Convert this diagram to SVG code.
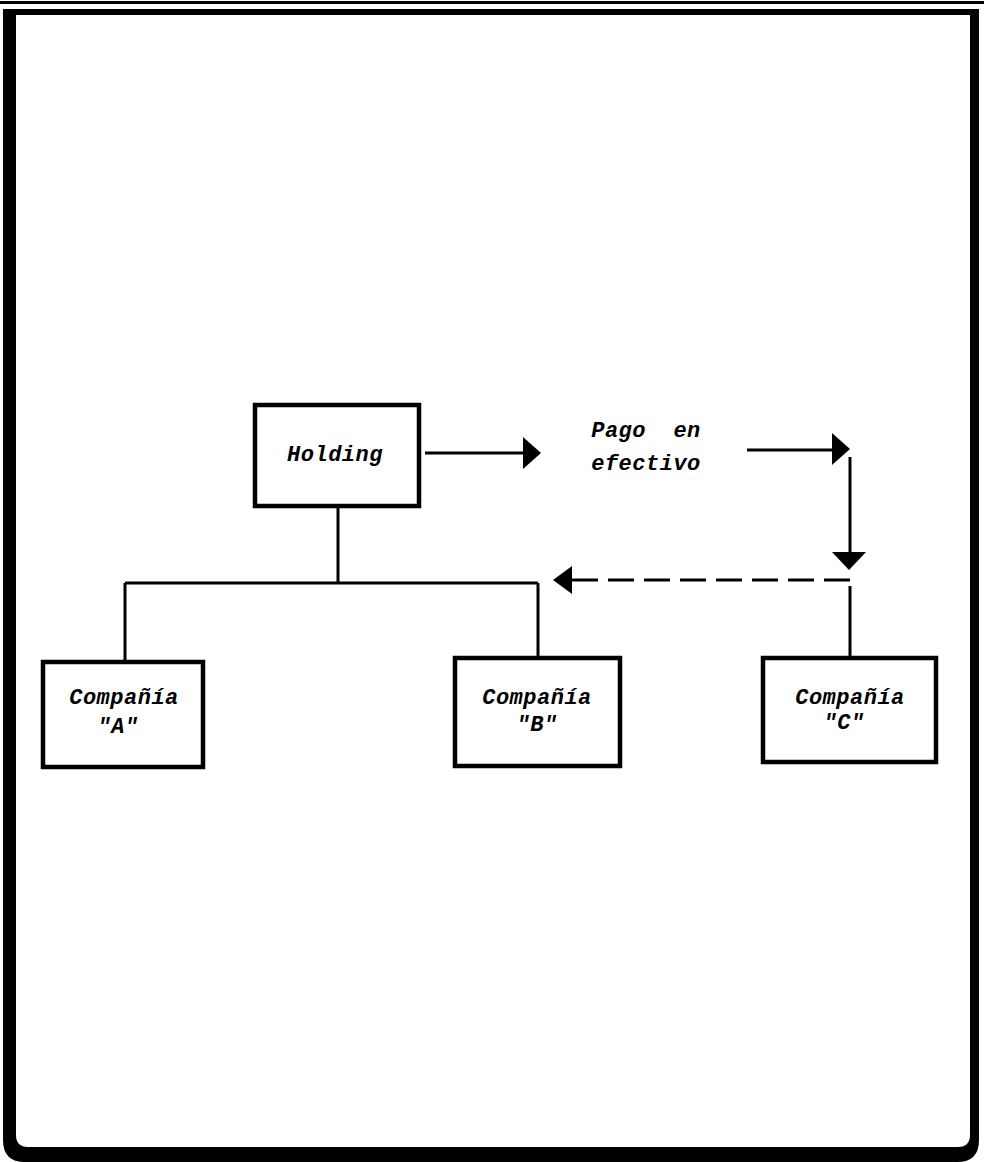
<svg xmlns="http://www.w3.org/2000/svg" width="984" height="1162" viewBox="0 0 984 1162">
  <style>
    .box { fill: #fff; stroke: #000; stroke-width: 4.5; }
    .line { fill: none; stroke: #000; stroke-width: 3; }
    .dash { fill: none; stroke: #000; stroke-width: 3; stroke-dasharray: 26 10; }
    .head { fill: #000; }
    .lbl { font-family: "Liberation Mono", "DejaVu Sans Mono", monospace; font-style: italic; font-weight: bold; font-size: 22px; letter-spacing: 0.5px; fill: #000; text-anchor: middle; }
  </style>

  <rect width="984" height="1162" fill="#fff"/>

  <!-- page frame -->
  <g id="frame">
    <rect x="0" y="1" width="984" height="3" fill="#000"/>
    <path fill="#000" fill-rule="evenodd"
          d="M3 9 H979 V1140 Q979 1162 957 1162 H25 Q3 1162 3 1140 Z
             M16 15 V1135 Q16 1147 28 1147 H958 Q970 1147 970 1135 V15 Z"/>
  </g>

  <!-- connectors -->
  <g id="connectors">
    <!-- Holding to subsidiaries -->
    <path class="line" d="M338 508 V583 M125 583 H538 M125 583 V662 M538 583 V658"/>
    <!-- cash payment flow -->
    <line class="line" x1="425" y1="453" x2="526" y2="453"/>
    <polygon class="head" points="523,437 541,453 523,469"/>
    <line class="line" x1="747" y1="450" x2="834" y2="450"/>
    <polygon class="head" points="832,433 850,449 832,465"/>
    <line class="line" x1="850" y1="457" x2="850" y2="555"/>
    <polygon class="head" points="832,552 866,552 849,570"/>
    <line class="dash" x1="850" y1="580" x2="570" y2="580"/>
    <polygon class="head" points="572,566 553,580 572,594"/>
    <line class="line" x1="850" y1="586" x2="850" y2="658"/>
  </g>

  <g id="holding">
    <rect class="box" x="255" y="405" width="164" height="101"/>
    <text class="lbl" x="335" y="461">Holding</text>
  </g>

  <g id="pago">
    <text class="lbl" x="646" y="437" xml:space="preserve">Pago  en</text>
    <text class="lbl" x="646" y="470">efectivo</text>
  </g>

  <g id="compania-a">
    <rect class="box" x="43" y="662" width="160" height="105"/>
    <text class="lbl" x="124" y="704">Compañía</text>
    <text class="lbl" x="118" y="733">"A"</text>
  </g>

  <g id="compania-b">
    <rect class="box" x="455" y="658" width="165" height="108"/>
    <text class="lbl" x="537" y="704">Compañía</text>
    <text class="lbl" x="537" y="731">"B"</text>
  </g>

  <g id="compania-c">
    <rect class="box" x="763" y="658" width="173" height="104"/>
    <text class="lbl" x="850" y="704">Compañía</text>
    <text class="lbl" x="844" y="729">"C"</text>
  </g>
</svg>
